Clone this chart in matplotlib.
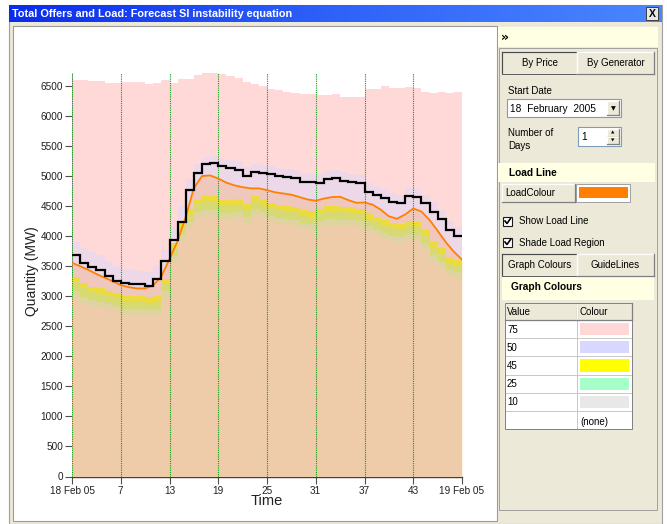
"""
Total offers and load chart, drawn inside a mock of the application window.
"""

import matplotlib
matplotlib.use("Agg")
import matplotlib.pyplot as plt
import matplotlib.patches as mpatches
import numpy as np

FIG_W, FIG_H = 667, 524

# ---- chart data (trading periods 1..48, MW) ----
PERIOD_EDGES = np.arange(1, 50)
TICK_POSITIONS = [1, 7, 13, 19, 25, 31, 37, 43, 49]
TICK_LABELS = ["18 Feb 05", "7", "13", "19", "25", "31", "37", "43", "19 Feb 05"]
GUIDE_POSITIONS = [1, 7, 13, 19, 25, 31, 37, 43]
Y_TICKS = list(range(0, 6501, 500))

offers_75 = [6600, 6600, 6585, 6590, 6555, 6555, 6560, 6560, 6565, 6540, 6555, 6595,
             6550, 6620, 6620, 6690, 6710, 6710, 6700, 6660, 6630, 6570, 6530, 6500,
             6455, 6435, 6400, 6385, 6360, 6360, 6345, 6345, 6360, 6320, 6320, 6320,
             6455, 6455, 6500, 6470, 6470, 6485, 6465, 6400, 6390, 6400, 6390, 6405]
offers_50 = [3900, 3800, 3730, 3680, 3590, 3510, 3460, 3430, 3420, 3400, 3500, 3780,
             4150, 4500, 4950, 5200, 5300, 5330, 5290, 5260, 5230, 5150, 5200, 5180,
             5160, 5130, 5110, 5100, 5050, 5040, 5030, 5080, 5100, 5060, 5040, 5010,
             4880, 4830, 4780, 4720, 4690, 4800, 4780, 4690, 4560, 4440, 4260, 4160]
offers_45 = [3320, 3225, 3160, 3130, 3090, 3055, 3005, 3005, 3000, 2980, 3000, 3295,
             3890, 4250, 4450, 4620, 4660, 4660, 4600, 4600, 4610, 4540, 4665, 4610,
             4555, 4520, 4505, 4490, 4435, 4415, 4460, 4500, 4505, 4490, 4480, 4460,
             4380, 4320, 4265, 4220, 4210, 4255, 4240, 4100, 3905, 3800, 3650, 3610]
offers_25 = [3240, 3140, 3075, 3045, 3005, 2970, 2920, 2920, 2915, 2895, 2915, 3210,
             3800, 4160, 4360, 4530, 4570, 4570, 4500, 4510, 4520, 4450, 4570, 4520,
             4465, 4430, 4415, 4400, 4345, 4325, 4370, 4410, 4415, 4400, 4390, 4370,
             4290, 4230, 4175, 4130, 4120, 4165, 4150, 4010, 3815, 3710, 3560, 3520]
offers_10 = [3080, 2990, 2930, 2900, 2865, 2830, 2790, 2790, 2785, 2765, 2785, 3080,
             3670, 4030, 4230, 4400, 4440, 4440, 4380, 4385, 4395, 4325, 4445, 4395,
             4340, 4305, 4290, 4275, 4220, 4200, 4245, 4285, 4290, 4275, 4265, 4245,
             4165, 4105, 4050, 4005, 3995, 4040, 4025, 3885, 3690, 3585, 3435, 3395]
offers_base = [2975, 2890, 2830, 2800, 2765, 2730, 2690, 2690, 2685, 2665, 2685, 2980,
               3570, 3930, 4130, 4300, 4340, 4340, 4280, 4285, 4295, 4225, 4345, 4295,
               4240, 4205, 4190, 4175, 4120, 4100, 4145, 4185, 4190, 4175, 4165, 4145,
               4065, 4005, 3950, 3905, 3895, 3940, 3925, 3785, 3590, 3485, 3335, 3295]
instability = [3680, 3560, 3490, 3440, 3340, 3260, 3225, 3200, 3200, 3170, 3285, 3580,
               3930, 4240, 4767, 5056, 5200, 5222, 5167, 5128, 5100, 5000, 5072, 5044,
               5028, 5000, 4978, 4961, 4906, 4906, 4889, 4950, 4972, 4922, 4906, 4878,
               4739, 4683, 4628, 4572, 4544, 4667, 4644, 4544, 4406, 4278, 4100, 4006]
# load sampled at each period boundary (49 points)
load = [3556, 3500, 3440, 3370, 3310, 3250, 3185, 3150, 3130, 3130, 3180, 3330,
        3620, 3920, 4320, 4800, 5000, 5010, 4960, 4890, 4845, 4815, 4795, 4795,
        4765, 4730, 4710, 4690, 4650, 4610, 4590, 4625, 4650, 4655, 4600, 4555,
        4560, 4525, 4440, 4330, 4290, 4360, 4460, 4410, 4270, 4090, 3900, 3740, 3610]

# ---- side panel data ----
LEGEND_VALUES = ["75", "50", "45", "25", "10", ""]
LEGEND_COLOURS = ["#FFD7D7", "#D7D7FF", "#FFFF00", "#A6FFC8", "#E8E8E8", None]

PINK = "#FFD8D8"
LAVENDER = "#D8D8FF"
ORANGE = "#FF8000"
TAN = "#EECBA9"
PALE = "#DDD49F"
YELLOW_GREEN = "#D7DA72"
YELLOW = "#ECDB3C"
GUIDE_GREEN = "#119911"
BEIGE = "#ECE9D8"
LIGHT_YELLOW = "#FFFFE3"
FONT = "Liberation Sans"


def fx(px):
    return px / FIG_W


def fy(py):
    return 1 - py / FIG_H


def draw_button(ax, x0, y0, x1, y1, text, pressed=False, text_x=None):
    ax.add_patch(mpatches.Rectangle((x0, y0), x1 - x0, y1 - y0, facecolor=BEIGE,
                                    edgecolor="none", zorder=2))
    light, dark = ("#808080", "#FFFFFF") if pressed else ("#FFFFFF", "#808080")
    ax.plot([x0, x1], [y0, y0], color=light, lw=0.9, zorder=3)
    ax.plot([x0, x0], [y0, y1], color=light, lw=0.9, zorder=3)
    ax.plot([x0, x1], [y1, y1], color=dark, lw=0.9, zorder=3)
    ax.plot([x1, x1], [y0, y1], color=dark, lw=0.9, zorder=3)
    if pressed:
        ax.add_patch(mpatches.Rectangle((x0, y0), x1 - x0, y1 - y0, facecolor="none",
                                        edgecolor="#404040", lw=0.6, zorder=3))
    if text_x is None:
        ax.text((x0 + x1) / 2, (y0 + y1) / 2 + 0.5, text, ha="center", va="center",
                fontsize=7, family=FONT, zorder=4)
    else:
        ax.text(text_x, (y0 + y1) / 2 + 0.5, text, ha="left", va="center",
                fontsize=7, family=FONT, zorder=4)


def draw_checkbox(ax, x, y, label):
    ax.add_patch(mpatches.Rectangle((x, y - 4.5), 9, 9, facecolor="white",
                                    edgecolor="#1C1C1C", lw=0.8, zorder=3))
    ax.plot([x + 2, x + 4, x + 7.5], [y, y + 2.5, y - 2.5], color="black", lw=1.2, zorder=4)
    ax.text(x + 16, y + 0.5, label, ha="left", va="center", fontsize=7, family=FONT, zorder=4)


def draw_window(ax):
    # outer window body
    ax.add_patch(mpatches.Rectangle((9, 5), 653, 519, facecolor=BEIGE, edgecolor="#A0A0A0",
                                    lw=0.8, zorder=1))
    # title bar gradient
    gradient = np.linspace(0, 1, 256).reshape(1, -1)
    title_cmap = matplotlib.colors.LinearSegmentedColormap.from_list(
        "title", ["#0A2CEE", "#2F62F8", "#4A86FF"])
    ax.imshow(gradient, cmap=title_cmap, extent=[9, 662, 22, 5], aspect="auto", zorder=2)
    ax.text(12, 13.8, "Total Offers and Load: Forecast SI instability equation", color="white",
            fontsize=7.8, fontweight="bold", family=FONT, va="center", ha="left", zorder=3)
    ax.add_patch(mpatches.Rectangle((646, 7), 12, 13, facecolor="#E8E8E8", edgecolor="#404040",
                                    lw=0.7, zorder=3))
    ax.text(652, 13.8, "X", fontsize=7.5, fontweight="bold", family=FONT, ha="center",
            va="center", zorder=4)
    # chart area
    ax.add_patch(mpatches.Rectangle((13, 26), 484, 495, facecolor="white", edgecolor="#9A9A9A",
                                    lw=0.8, zorder=2))


def draw_panel(ax):
    ax.add_patch(mpatches.Rectangle((498, 27), 160, 20, facecolor=LIGHT_YELLOW,
                                    edgecolor="none", zorder=2))
    ax.text(501, 37, "»", fontsize=9, fontweight="bold", family="DejaVu Sans", ha="left",
            va="center", zorder=3)
    ax.add_patch(mpatches.Rectangle((499, 48), 158, 462, facecolor="none", edgecolor="#A0A0A0",
                                    lw=0.7, zorder=2))

    draw_button(ax, 502, 52, 577, 74, "By Price", pressed=True)
    draw_button(ax, 577, 52, 654, 74, "By Generator")

    ax.text(508, 91, "Start Date", fontsize=7, family=FONT, ha="left", va="center", zorder=3)
    ax.add_patch(mpatches.Rectangle((507, 99), 114, 18, facecolor="white", edgecolor="#7F9DB9",
                                    lw=0.8, zorder=2))
    ax.text(510, 108.5, "18  February  2005", fontsize=7.3, family=FONT, ha="left",
            va="center", zorder=3)
    draw_button(ax, 607, 101, 619, 115, "")
    ax.text(613, 108.5, "▼", fontsize=4.5, family="DejaVu Sans", ha="center", va="center",
            zorder=4)

    ax.text(508, 133, "Number of", fontsize=7, family=FONT, ha="left", va="center", zorder=3)
    ax.text(508, 146, "Days", fontsize=7, family=FONT, ha="left", va="center", zorder=3)
    ax.add_patch(mpatches.Rectangle((578, 127), 43, 19, facecolor="white", edgecolor="#7F9DB9",
                                    lw=0.8, zorder=2))
    ax.text(581, 136.5, "1", fontsize=7.3, family=FONT, ha="left", va="center", zorder=3)
    draw_button(ax, 607, 129, 619, 136.5, "")
    draw_button(ax, 607, 136.5, 619, 144, "")
    ax.text(613, 133, "▲", fontsize=3.2, family="DejaVu Sans", ha="center", va="center", zorder=4)
    ax.text(613, 140.5, "▼", fontsize=3.2, family="DejaVu Sans", ha="center", va="center", zorder=4)

    ax.add_patch(mpatches.Rectangle((498, 163), 157, 19, facecolor=LIGHT_YELLOW,
                                    edgecolor="none", zorder=2))
    ax.text(509, 172.5, "Load Line", fontsize=7.3, fontweight="bold", family=FONT, ha="left",
            va="center", zorder=3)
    draw_button(ax, 502, 184, 575, 202, "LoadColour", text_x=505)
    ax.add_patch(mpatches.Rectangle((576, 184), 54, 18, facecolor="white", edgecolor="#A0A0A0",
                                    lw=0.7, zorder=2))
    ax.add_patch(mpatches.Rectangle((578.5, 187), 49, 11, facecolor=ORANGE, edgecolor="none",
                                    zorder=3))

    draw_checkbox(ax, 503, 221, "Show Load Line")
    draw_checkbox(ax, 503, 242, "Shade Load Region")

    draw_button(ax, 502, 254, 577, 276, "Graph Colours", pressed=True)
    draw_button(ax, 577, 254, 654, 276, "GuideLines")

    ax.add_patch(mpatches.Rectangle((502, 277), 152, 23, facecolor=LIGHT_YELLOW,
                                    edgecolor="none", zorder=2))
    ax.text(511, 287, "Graph Colours", fontsize=7.3, fontweight="bold", family=FONT, ha="left",
            va="center", zorder=3)

    # colour table
    left, mid, right, top = 505, 577, 632, 303
    header_h, row_h = 17, 18.2
    draw_button(ax, left, top, mid, top + header_h, "Value", text_x=left + 2)
    draw_button(ax, mid, top, right, top + header_h, "Colour", text_x=mid + 2)
    for row, (value, colour) in enumerate(zip(LEGEND_VALUES, LEGEND_COLOURS)):
        y0 = top + header_h + row * row_h
        for x0, x1 in [(left, mid), (mid, right)]:
            ax.add_patch(mpatches.Rectangle((x0, y0), x1 - x0, row_h, facecolor="white",
                                            edgecolor="#C8C8C8", lw=0.7, zorder=2))
        ax.text(left + 2, y0 + row_h / 2 + 0.5, value, fontsize=7, family=FONT, ha="left",
                va="center", zorder=3)
        if colour is None:
            ax.text(mid + 3, y0 + row_h / 2 + 1.5, "(none)", fontsize=7, family=FONT,
                    ha="left", va="center", zorder=3)
        else:
            ax.add_patch(mpatches.Rectangle((mid + 3, y0 + 3), right - mid - 6, row_h - 6,
                                            facecolor=colour, edgecolor="none", zorder=3))
    ax.add_patch(mpatches.Rectangle((left, top), right - left,
                                    header_h + len(LEGEND_VALUES) * row_h, facecolor="none",
                                    edgecolor="#808080", lw=0.7, zorder=4))


def draw_chart(figure):
    axis = figure.add_axes([fx(72), fy(476.5), fx(462) - fx(72), fy(73) - fy(476.5)])
    axis.set_facecolor("none")
    axis.set_zorder(2)

    axis.stairs(offers_75, PERIOD_EDGES, baseline=0, fill=True, color=PINK, zorder=1)
    axis.stairs(offers_50, PERIOD_EDGES, baseline=0, fill=True, color=LAVENDER, alpha=0.45,
                zorder=2)
    axis.fill_between(PERIOD_EDGES, load, 0, color=ORANGE, alpha=0.19, linewidth=0, zorder=3)
    axis.stairs(offers_base, PERIOD_EDGES, baseline=0, fill=True, color=TAN, zorder=4)
    axis.stairs(offers_10, PERIOD_EDGES, baseline=offers_base, fill=True, color=PALE, zorder=4)
    axis.stairs(offers_25, PERIOD_EDGES, baseline=offers_10, fill=True, color=YELLOW_GREEN,
                zorder=4)
    axis.stairs(offers_45, PERIOD_EDGES, baseline=offers_25, fill=True, color=YELLOW, zorder=4)

    for position in GUIDE_POSITIONS:
        axis.axvline(position, color=GUIDE_GREEN, linestyle=(0, (1, 1)), linewidth=0.8,
                     zorder=5)

    axis.plot(PERIOD_EDGES, load, color=ORANGE, linewidth=1.3, zorder=6)
    axis.stairs(instability, PERIOD_EDGES, baseline=None, color="black", linewidth=1.6,
                zorder=7)

    axis.set_xlim(1, 49)
    axis.set_ylim(0, 6715)
    axis.set_xticks(TICK_POSITIONS)
    axis.set_xticklabels(TICK_LABELS)
    axis.set_yticks(Y_TICKS)
    axis.tick_params(axis="both", length=5, width=0.8, color="#505050", labelsize=7.2,
                     labelcolor="#202020")
    axis.tick_params(axis="y", pad=1.5)
    axis.tick_params(axis="x", pad=1.5)
    for label in axis.get_xticklabels() + axis.get_yticklabels():
        label.set_family(FONT)
    for side in ["top", "right"]:
        axis.spines[side].set_visible(False)
    axis.spines["bottom"].set_color("#404040")
    axis.spines["bottom"].set_linewidth(1.0)
    axis.spines["left"].set_color("#A8A8A8")
    axis.spines["left"].set_linewidth(0.6)

    axis.set_xlabel("Time", fontsize=10.5, family=FONT, color="#202020", labelpad=-1)
    figure.text(fx(32), fy(271), "Quantity (MW)", rotation=90, fontsize=10, family=FONT,
                color="#202020", ha="center", va="center")


figure = plt.figure(figsize=(FIG_W / 100, FIG_H / 100), dpi=100)
figure.patch.set_facecolor("white")
overlay = figure.add_axes([0, 0, 1, 1])
overlay.set_xlim(0, FIG_W)
overlay.set_ylim(FIG_H, 0)
overlay.axis("off")
overlay.set_zorder(0)

draw_window(overlay)
draw_panel(overlay)
draw_chart(figure)

figure.savefig("out.png", dpi=100)
